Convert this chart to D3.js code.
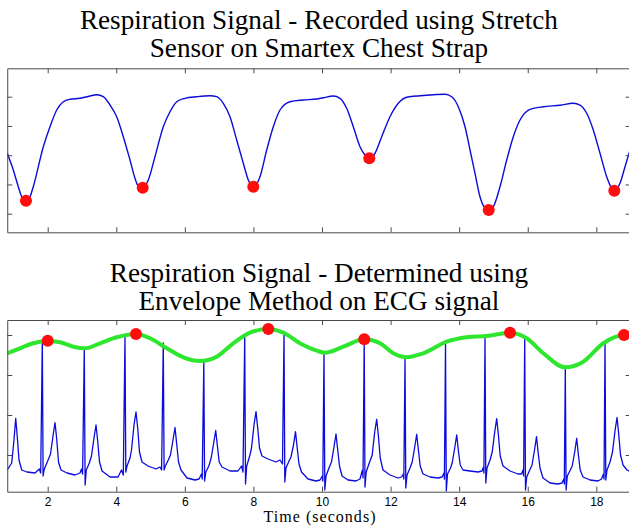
<!DOCTYPE html>
<html>
<head>
<meta charset="utf-8">
<script src="https://cdn.jsdelivr.net/npm/d3@7/dist/d3.min.js"></script>
<style>
  body { margin: 0; background: #fff; }
  svg { display: block; }
</style>
</head>
<body>
<div id="chart"></div>
<script>
// ---- data ----
var xTicks = [2, 4, 6, 8, 10, 12, 14, 16, 18];
var strapTicks = [0, 1, 2, 3, 4];
var ecgTicks = [0, 1, 2, 3];

var strapTitle = ["Respiration Signal - Recorded using Stretch", "Sensor on Smartex Chest Strap"];
var ecgTitle = ["Respiration Signal - Determined using", "Envelope Method on ECG signal"];
var xLabel = "Time (seconds)";

// stretch sensor trace [time s, value]
var strapSignal = [
  [0.822,2.065],[0.997,1.494],[1.143,0.923],[1.242,0.581],[1.367,0.444],[1.484,0.581],[1.580,0.923],
  [1.872,2.291],[2.067,2.974],[2.263,3.545],[2.455,3.829],[2.650,3.911],[2.942,3.945],[3.234,4.024],
  [3.429,4.068],[3.621,4.000],[3.817,3.716],[4.012,3.316],[4.205,2.633],[4.400,1.836],[4.546,1.210],
  [4.642,0.947],[4.771,0.889],[4.934,1.152],[5.129,1.949],[5.371,2.974],[5.567,3.487],[5.762,3.829],
  [6.004,3.945],[6.346,4.000],[6.733,4.034],[6.929,4.000],[7.121,3.774],[7.317,3.316],[7.512,2.520],
  [7.705,1.723],[7.851,1.152],[7.996,0.923],[8.192,1.265],[8.387,2.178],[8.580,2.974],[8.775,3.545],
  [9.067,3.829],[9.455,3.887],[9.845,3.921],[10.038,3.966],[10.329,4.024],[10.525,3.945],[10.720,3.603],
  [10.913,2.974],[11.108,2.291],[11.254,2.007],[11.379,1.894],[11.546,2.065],[11.741,2.633],[11.983,3.316],
  [12.225,3.774],[12.470,3.980],[12.858,4.034],[13.246,4.068],[13.587,4.082],[13.783,4.000],[13.975,3.658],
  [14.171,2.974],[14.317,2.178],[14.462,1.381],[14.608,0.581],[14.725,0.239],[14.862,0.127],[14.996,0.239],
  [15.191,0.923],[15.387,1.836],[15.579,2.633],[15.775,3.203],[16.066,3.569],[16.454,3.658],[16.941,3.706],
  [17.329,3.774],[17.524,3.716],[17.720,3.433],[17.912,2.862],[18.108,2.065],[18.303,1.265],[18.449,0.868],
  [18.525,0.786],[18.691,1.039],[18.837,1.607],[19.0,2.246]
];
var strapMinima = [[1.367,0.444],[4.771,0.889],[7.996,0.923],[11.379,1.894],[14.862,0.127],[18.525,0.786]];

// ECG trace [time s, value]
var ecgSignal = [
  [0.822,-0.375],[0.950,-0.2],[1.017,0.375],[1.067,0.918],[1.113,0.45],[1.163,-0.125],[1.242,-0.375],
  [1.396,-0.425],[1.630,-0.45],[1.755,-0.35],[1.796,-0.45],
  [1.843,2.875],[1.866,-0.525],[1.901,-0.35],[1.988,-0.175],[2.082,0.025],[2.155,0.475],[2.213,0.808],
  [2.263,0.4],[2.315,-0.175],[2.388,-0.375],[2.563,-0.45],[2.796,-0.5],[2.942,-0.45],[2.986,-0.35],[3.018,-0.475],
  [3.067,2.675],[3.091,-0.75],[3.126,-0.375],[3.213,-0.2],[3.277,-0.025],[3.350,0.425],[3.409,0.75],
  [3.458,0.35],[3.511,-0.175],[3.584,-0.4],[3.817,-0.55],[4.050,-0.55],[4.152,-0.375],[4.205,-0.5],
  [4.254,2.975],[4.278,-0.425],[4.313,-0.275],[4.400,-0.075],[4.444,0.125],[4.517,0.75],[4.575,1.075],
  [4.625,0.675],[4.677,0.075],[4.750,-0.175],[4.925,-0.275],[5.159,-0.35],[5.275,-0.3],[5.322,-0.375],
  [5.371,2.8],[5.395,-0.375],[5.430,-0.275],[5.517,-0.125],[5.581,0],[5.654,0.375],[5.713,0.688],
  [5.762,0.275],[5.815,-0.175],[5.888,-0.375],[6.063,-0.575],[6.296,-0.625],[6.413,-0.6],[6.486,-0.475],[6.506,-0.6],
  [6.553,2.325],[6.576,-0.65],[6.611,-0.425],[6.699,-0.275],[6.768,-0.075],[6.841,0.3],[6.900,0.613],
  [6.949,0.225],[7.002,-0.175],[7.083,-0.3],[7.317,-0.4],[7.550,-0.4],[7.652,-0.275],[7.696,-0.425],
  [7.746,2.963],[7.769,-0.725],[7.804,-0.275],[7.891,-0.025],[7.944,0.175],[8.017,0.75],[8.075,1.083],
  [8.125,0.675],[8.177,0.175],[8.250,-0.025],[8.425,-0.1],[8.658,-0.175],[8.775,-0.125],[8.848,-0.225],
  [8.892,3.038],[8.915,-0.675],[8.950,-0.325],[9.038,-0.15],[9.096,-0.05],[9.169,0.25],[9.227,0.583],
  [9.277,0.175],[9.329,-0.225],[9.402,-0.425],[9.592,-0.6],[9.825,-0.65],[9.942,-0.625],[10.009,-0.525],[10.023,-0.65],
  [10.058,2.55],[10.082,-0.875],[10.117,-0.525],[10.204,-0.325],[10.277,-0.175],[10.350,0.2],[10.408,0.525],
  [10.458,0.125],[10.510,-0.275],[10.583,-0.525],[10.758,-0.625],[10.992,-0.65],[11.108,-0.6],[11.181,-0.375],[11.196,-0.575],
  [11.231,2.863],[11.254,-0.8],[11.289,-0.425],[11.377,-0.2],[11.464,0],[11.537,0.575],[11.595,0.893],
  [11.645,0.475],[11.697,-0.075],[11.779,-0.375],[11.983,-0.5],[12.217,-0.575],[12.319,-0.55],[12.371,-0.475],[12.386,-0.6],
  [12.421,2.413],[12.444,-0.825],[12.479,-0.5],[12.567,-0.325],[12.631,-0.175],[12.704,0.2],[12.762,0.518],
  [12.811,0.125],[12.864,-0.275],[12.946,-0.475],[13.150,-0.55],[13.383,-0.575],[13.500,-0.55],[13.558,-0.45],[13.570,-0.6],
  [13.602,2.793],[13.625,-0.9],[13.660,-0.475],[13.748,-0.325],[13.797,-0.2],[13.870,0.175],[13.929,0.5],
  [13.978,0.1],[14.031,-0.25],[14.112,-0.375],[14.316,-0.4],[14.550,-0.425],[14.666,-0.4],[14.710,-0.3],[14.722,-0.45],
  [14.754,2.938],[14.777,-0.7],[14.812,-0.325],[14.900,-0.125],[14.964,0.075],[15.037,0.575],[15.095,0.908],
  [15.145,0.5],[15.197,-0.025],[15.279,-0.275],[15.483,-0.4],[15.716,-0.475],[15.818,-0.475],[15.862,-0.375],[15.880,-0.525],
  [15.912,2.918],[15.935,-0.875],[15.970,-0.55],[16.058,-0.375],[16.125,-0.25],[16.198,0.125],[16.256,0.458],
  [16.305,0.05],[16.358,-0.325],[16.445,-0.575],[16.650,-0.7],[16.883,-0.725],[16.999,-0.7],[17.052,-0.6],[17.067,-0.725],
  [17.096,2.168],[17.119,-0.875],[17.154,-0.525],[17.242,-0.375],[17.297,-0.275],[17.370,0.075],[17.428,0.418],
  [17.478,0],[17.530,-0.375],[17.612,-0.55],[17.816,-0.625],[18.050,-0.65],[18.152,-0.6],[18.210,-0.475],[18.225,-0.6],
  [18.254,2.813],[18.277,-0.625],[18.312,-0.375],[18.400,-0.175],[18.472,0.075],[18.545,0.6],[18.604,0.938],
  [18.653,0.525],[18.706,0],[18.779,-0.25],[18.895,-0.375],[19.0,-0.425]
];

// envelope through the R peaks [time s, value]
var envelope = [
  [0.822,2.543],[1.192,2.668],[1.580,2.793],[2.000,2.858],[2.359,2.818],[2.747,2.708],[3.088,2.668],
  [3.525,2.793],[4.012,2.943],[4.575,3.025],[4.984,2.918],[5.471,2.668],[5.955,2.443],[6.442,2.350],
  [6.929,2.458],[7.413,2.793],[7.900,3.058],[8.434,3.150],[8.871,3.058],[9.358,2.793],[9.845,2.608],
  [10.087,2.558],[10.621,2.708],[11.233,2.893],[11.691,2.793],[12.079,2.543],[12.470,2.443],[12.954,2.543],
  [13.637,2.833],[14.220,2.943],[14.803,2.975],[15.483,3.058],[15.970,2.918],[16.454,2.543],[17.087,2.193],
  [17.621,2.333],[18.204,2.793],[18.808,3.000],[19.0,2.990]
];
var envelopePeaks = [[2.000,2.858],[4.575,3.025],[8.434,3.150],[11.233,2.893],[15.483,3.058],[18.808,3.000]];

// ---- layout ----
var WIDTH = 629, HEIGHT = 527;
var PLOT_LEFT = 7.24, PLOT_RIGHT = 630.6;
var TOP_PANEL = { top: 68.3, bottom: 232.3 };
var ECG_PANEL = { top: 320, bottom: 491.7 };
var AXIS_COLOR = "#4a4a4a";
var BLUE = "#0b0bdc", GREEN = "#2fe62f", RED = "#ff0d0d";
var SERIF = "Liberation Serif";
var TITLE_SIZE = "27.2px";

var svg = d3.select("#chart").append("svg")
    .attr("width", WIDTH)
    .attr("height", HEIGHT);

var x = d3.scaleLinear().domain([0.82, 19.0]).range([PLOT_LEFT, PLOT_RIGHT]);
var yStrap = d3.scaleLinear().domain([-0.636, 4.971]).range([TOP_PANEL.bottom, TOP_PANEL.top]);
var yEcg = d3.scaleLinear().domain([-0.9175, 3.375]).range([ECG_PANEL.bottom, ECG_PANEL.top]);

/**
 * Draws the box with inward ticks on all four sides.
 */
function drawFrame(panel, y, yTickValues, showLabels) {
    var g = svg.append("g");
    var styleAxis = function(sel) {
        sel.selectAll("path, line").attr("stroke", AXIS_COLOR).attr("stroke-width", 1);
    };
    g.append("g")
        .attr("transform", "translate(0," + panel.bottom + ")")
        .call(d3.axisBottom(x).tickValues(xTicks).tickSizeInner(-5).tickSizeOuter(0)
            .tickPadding(5.5).tickFormat(showLabels ? d3.format("d") : ""))
        .call(styleAxis);
    g.append("g")
        .attr("transform", "translate(0," + panel.top + ")")
        .call(d3.axisTop(x).tickValues(xTicks).tickSizeInner(-5).tickSizeOuter(0).tickFormat(""))
        .call(styleAxis);
    g.append("g")
        .attr("transform", "translate(" + PLOT_LEFT + ",0)")
        .call(d3.axisLeft(y).tickValues(yTickValues).tickSizeInner(-5).tickSizeOuter(0).tickFormat(""))
        .call(styleAxis);
    g.append("g")
        .attr("transform", "translate(" + PLOT_RIGHT + ",0)")
        .call(d3.axisRight(y).tickValues(yTickValues).tickSizeInner(-5).tickSizeOuter(0).tickFormat(""))
        .call(styleAxis);
    g.selectAll(".domain").attr("fill", "none");
    g.selectAll(".tick text")
        .style("font-family", "Liberation Sans")
        .style("font-size", "12px")
        .attr("fill", "#000");
}

/**
 * Adds a clip rect for a panel and returns the clipped group.
 */
function clippedGroup(panel, id) {
    svg.append("clipPath").attr("id", id)
      .append("rect")
        .attr("x", PLOT_LEFT)
        .attr("y", panel.top)
        .attr("width", PLOT_RIGHT - PLOT_LEFT)
        .attr("height", panel.bottom - panel.top);
    return svg.append("g").attr("clip-path", "url(#" + id + ")");
}

// Top panel: stretch sensor
var strapLine = d3.line()
    .x(function(d) { return x(d[0]); })
    .y(function(d) { return yStrap(d[1]); })
    .curve(d3.curveMonotoneX);

var gTop = clippedGroup(TOP_PANEL, "clipTop");
gTop.append("path")
    .datum(strapSignal)
    .attr("fill", "none")
    .attr("stroke", BLUE)
    .attr("stroke-width", 1.4)
    .attr("d", strapLine);

drawFrame(TOP_PANEL, yStrap, strapTicks, false);

svg.append("g").selectAll("circle")
    .data(strapMinima)
    .enter()
    .append("circle")
    .attr("cx", function(d) { return x(d[0]); })
    .attr("cy", function(d) { return yStrap(d[1]); })
    .attr("r", 6)
    .attr("fill", RED);

// Bottom panel: ECG with envelope
var ecgLine = d3.line()
    .x(function(d) { return x(d[0]); })
    .y(function(d) { return yEcg(d[1]); });

var envLine = d3.line()
    .x(function(d) { return x(d[0]); })
    .y(function(d) { return yEcg(d[1]); })
    .curve(d3.curveMonotoneX);

var gBot = clippedGroup(ECG_PANEL, "clipBot");
gBot.append("path")
    .datum(ecgSignal)
    .attr("fill", "none")
    .attr("stroke", BLUE)
    .attr("stroke-width", 1.3)
    .attr("stroke-linejoin", "round")
    .attr("d", ecgLine);

gBot.append("path")
    .datum(envelope)
    .attr("fill", "none")
    .attr("stroke", GREEN)
    .attr("stroke-width", 4)
    .attr("d", envLine);

drawFrame(ECG_PANEL, yEcg, ecgTicks, true);

svg.append("g").selectAll("circle")
    .data(envelopePeaks)
    .enter()
    .append("circle")
    .attr("cx", function(d) { return x(d[0]); })
    .attr("cy", function(d) { return yEcg(d[1]); })
    .attr("r", 6)
    .attr("fill", RED);

// Titles
var centerX = (PLOT_LEFT + PLOT_RIGHT) / 2;
function drawTitle(lines, baselines) {
    lines.forEach(function(line, i) {
        svg.append("text")
            .attr("x", centerX)
            .attr("y", baselines[i])
            .attr("text-anchor", "middle")
            .style("font-family", SERIF)
            .style("font-size", TITLE_SIZE)
            .attr("fill", "#000")
            .text(line);
    });
}

drawTitle(strapTitle, [28.5, 56.5]);
drawTitle(ecgTitle, [282.3, 310]);

svg.append("text")
    .attr("x", 319.5)
    .attr("y", 522)
    .attr("text-anchor", "middle")
    .attr("textLength", 112)
    .attr("lengthAdjust", "spacing")
    .style("font-family", SERIF)
    .style("font-size", "16px")
    .attr("fill", "#000")
    .text(xLabel);
</script>
</body>
</html>
